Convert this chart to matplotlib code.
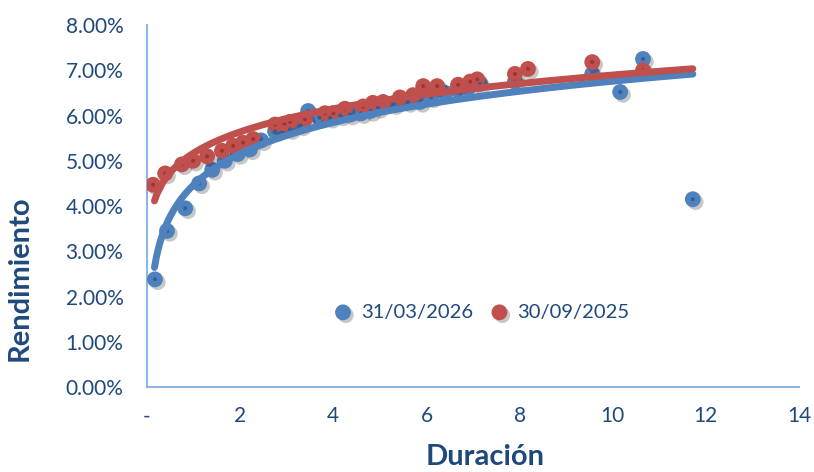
import numpy as np
import matplotlib
matplotlib.use('Agg')
import matplotlib.pyplot as plt
import matplotlib.patheffects as pe
from matplotlib.ticker import FuncFormatter, MultipleLocator

# Datos (duracion, rendimiento %)
dur_2026 = [0.17, 0.43, 0.82, 1.12, 1.40, 1.67, 1.95, 2.21, 2.45, 2.75, 3.07, 3.30,
            3.46, 3.70, 3.93, 4.15, 4.36, 4.60, 4.80, 4.96, 5.30, 5.60, 5.86, 6.10,
            6.40, 6.66, 6.90, 7.15, 7.90, 9.56, 10.16, 10.65, 11.72]
rend_2026 = [2.38, 3.45, 3.95, 4.50, 4.80, 5.00, 5.15, 5.25, 5.45, 5.65, 5.70, 5.78,
             6.10, 5.95, 5.95, 6.00, 6.02, 6.05, 6.10, 6.17, 6.25, 6.30, 6.30, 6.40,
             6.50, 6.58, 6.62, 6.70, 6.75, 6.92, 6.52, 7.25, 4.15]

dur_2025 = [0.13, 0.39, 0.75, 0.99, 1.29, 1.61, 1.85, 2.06, 2.28, 2.75, 2.95, 3.07,
            3.39, 3.82, 4.00, 4.25, 4.64, 4.85, 5.07, 5.43, 5.71, 5.93, 6.23, 6.68,
            6.94, 7.09, 7.90, 8.18, 9.56, 10.65]
rend_2025 = [4.47, 4.72, 4.92, 5.00, 5.10, 5.22, 5.33, 5.40, 5.48, 5.80, 5.82, 5.86,
             5.92, 6.05, 6.05, 6.15, 6.20, 6.28, 6.30, 6.40, 6.45, 6.65, 6.65, 6.68,
             6.75, 6.80, 6.92, 7.03, 7.18, 7.00]

etiquetas = ['31/03/2026', '30/09/2025']
colores = ['#4F81BD', '#C0504D']
centros = ['#2E5E9E', '#9E3330']
texto = '#1F497D'
eje = '#8EB4E3'

plt.rcParams['font.family'] = ['Lato', 'DejaVu Sans']

fig = plt.figure(figsize=(8.14, 4.72), dpi=100)
ax = fig.add_axes([0.1806, 0.180, 0.801, 0.767])

sombra = [pe.SimplePatchShadow(offset=(2, -2), shadow_rgbFace='black', alpha=0.22), pe.Normal()]

series = [(dur_2026, rend_2026), (dur_2025, rend_2025)]
for (xs, ys), col, cen, lab in zip(series, colores, centros, etiquetas):
    x = np.array(xs)
    y = np.array(ys) / 100
    sc = ax.scatter(x, y, s=130, color=col, edgecolors='none', zorder=3, label=lab)
    sc.set_path_effects(sombra)
    ax.scatter(x, y, s=8, color=cen, edgecolors='none', zorder=3.1)

# lineas de tendencia: logaritmica (2026) y potencial (2025)
xmin = min(min(dur_2026), min(dur_2025)) + 0.03
xmax = max(max(dur_2026), max(dur_2025))
xt = np.linspace(xmin, xmax, 300)

b1, a1 = np.polyfit(np.log(dur_2026), np.array(rend_2026) / 100, 1)
ax.plot(xt, a1 + b1 * np.log(xt), color=colores[0], lw=5, solid_capstyle='round', zorder=4)

b2, a2 = np.polyfit(np.log(dur_2025), np.log(np.array(rend_2025) / 100), 1)
ax.plot(xt, np.exp(a2) * xt ** b2, color=colores[1], lw=5, solid_capstyle='round', zorder=5)

ax.set_xlim(0, 14)
ax.set_ylim(0, 0.08)
ax.xaxis.set_major_locator(MultipleLocator(2))
ax.yaxis.set_major_locator(MultipleLocator(0.01))
ax.xaxis.set_major_formatter(FuncFormatter(lambda v, p: '-' if v == 0 else f'{v:.0f}'))
ax.yaxis.set_major_formatter(FuncFormatter(lambda v, p: f'{v*100:.2f}%'))
ax.tick_params(length=0, labelsize=15, colors=texto, pad=17)
ax.tick_params(axis='x', pad=14)

for s in ['top', 'right']:
    ax.spines[s].set_visible(False)
for s in ['left', 'bottom']:
    ax.spines[s].set_color(eje)
    ax.spines[s].set_linewidth(1.5)

ax.set_xlabel('Duración', fontsize=21, fontweight='bold', color=texto)
ax.set_ylabel('Rendimiento', fontsize=21, fontweight='bold', color=texto)
ax.xaxis.set_label_coords(0.518, -0.157)
ax.yaxis.set_label_coords(-0.175, 0.30)

leg = ax.legend(loc='center', bbox_to_anchor=(0.505, 0.207), ncol=2, frameon=False,
                fontsize=14.5, handletextpad=-0.1, columnspacing=0.3, markerscale=1.0)
for t in leg.get_texts():
    t.set_color(texto)

fig.savefig('out.png', dpi=100)
